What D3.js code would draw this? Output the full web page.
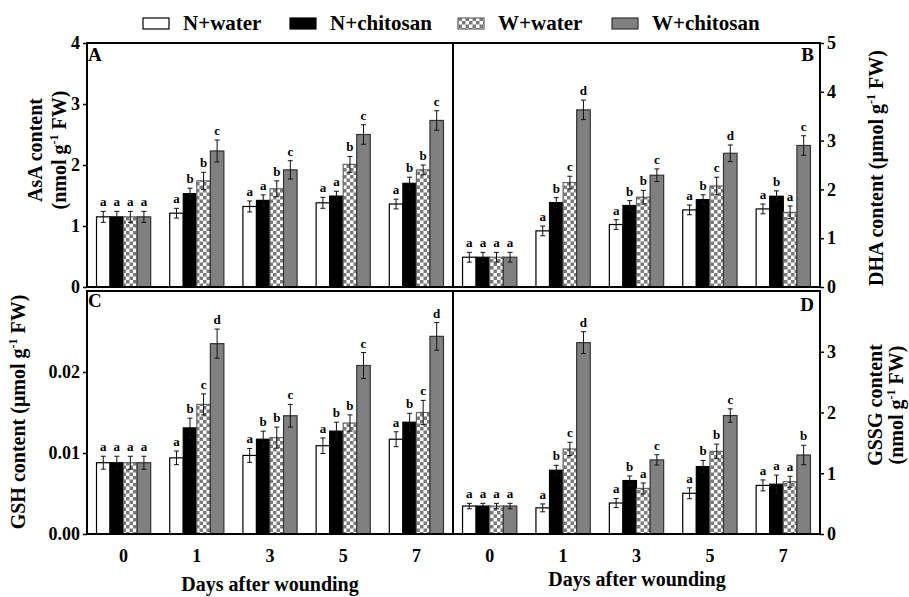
<!DOCTYPE html>
<html>
<head>
<meta charset="utf-8">
<script src="https://cdn.jsdelivr.net/npm/d3@7"></script>
<style>
  body { margin: 0; background: #fff; }
  svg { display: block; }
  text { font-family: "Liberation Serif", "Times New Roman", serif; font-weight: bold; fill: #000; }
</style>
</head>
<body>
<svg id="chart" width="909" height="597"></svg>
<script>
// categories
const days = ['0', '1', '3', '5', '7'];
const series = ['N+water', 'N+chitosan', 'W+water', 'W+chitosan'];

// A: AsA content, one row per series
const asaMean = [
  [1.15, 1.21, 1.32, 1.38, 1.36],
  [1.15, 1.53, 1.42, 1.49, 1.70],
  [1.15, 1.74, 1.61, 2.01, 1.92],
  [1.15, 2.23, 1.92, 2.50, 2.73]
];
const asaErr = [
  [0.09, 0.08, 0.09, 0.09, 0.08],
  [0.09, 0.09, 0.09, 0.08, 0.10],
  [0.09, 0.14, 0.13, 0.13, 0.08],
  [0.09, 0.18, 0.15, 0.16, 0.16]
];
const asaSig = [
  ['a', 'a', 'a', 'a', 'a'],
  ['a', 'b', 'a', 'a', 'b'],
  ['a', 'b', 'b', 'b', 'b'],
  ['a', 'c', 'c', 'c', 'c']
];

// B: DHA content
const dhaMean = [
  [0.61, 1.15, 1.28, 1.58, 1.60],
  [0.61, 1.73, 1.67, 1.79, 1.86],
  [0.61, 2.14, 1.84, 2.07, 1.53],
  [0.61, 3.63, 2.29, 2.74, 2.90]
];
const dhaErr = [
  [0.10, 0.10, 0.10, 0.10, 0.10],
  [0.10, 0.10, 0.10, 0.10, 0.11],
  [0.10, 0.13, 0.14, 0.18, 0.13],
  [0.10, 0.20, 0.13, 0.17, 0.20]
];
const dhaSig = [
  ['a', 'a', 'a', 'a', 'a'],
  ['a', 'b', 'b', 'b', 'b'],
  ['a', 'c', 'b', 'c', 'a'],
  ['a', 'd', 'c', 'd', 'c']
];

// C: GSH content
const gshMean = [
  [0.0088, 0.0094, 0.0097, 0.0109, 0.0117],
  [0.0088, 0.0131, 0.0117, 0.0127, 0.0138],
  [0.0088, 0.0160, 0.0119, 0.0137, 0.0150],
  [0.0088, 0.0235, 0.0146, 0.0208, 0.0244]
];
const gshErr = [
  [0.0008, 0.00084, 0.00086, 0.00096, 0.00092],
  [0.0008, 0.0012, 0.0010, 0.0011, 0.0011],
  [0.0008, 0.0013, 0.0013, 0.0010, 0.0015],
  [0.0008, 0.0018, 0.0014, 0.0016, 0.0017]
];
const gshSig = [
  ['a', 'a', 'a', 'a', 'a'],
  ['a', 'b', 'b', 'b', 'b'],
  ['a', 'c', 'b', 'b', 'c'],
  ['a', 'd', 'c', 'c', 'd']
];

// D: GSSG content
const gssgMean = [
  [0.46, 0.43, 0.51, 0.67, 0.80],
  [0.46, 1.05, 0.88, 1.11, 0.82],
  [0.46, 1.40, 0.75, 1.36, 0.86],
  [0.46, 3.15, 1.22, 1.95, 1.30]
];
const gssgErr = [
  [0.045, 0.065, 0.075, 0.09, 0.09],
  [0.045, 0.08, 0.075, 0.10, 0.15],
  [0.045, 0.11, 0.09, 0.12, 0.09],
  [0.045, 0.18, 0.085, 0.11, 0.16]
];
const gssgSig = [
  ['a', 'a', 'a', 'a', 'a'],
  ['a', 'b', 'b', 'b', 'a'],
  ['a', 'c', 'a', 'b', 'a'],
  ['a', 'd', 'c', 'c', 'b']
];

// axis ticks
const asaTicks = [0, 1, 2, 3, 4];
const dhaTicks = [0, 1, 2, 3, 4, 5];
const gshTicks = [0, 0.01, 0.02];
const gssgTicks = [0, 1, 2, 3];

const svg = d3.select('#chart');
const GRAY = '#808080';

// checker pattern for W+water
const defs = svg.append('defs');
const pat = defs.append('pattern').attr('id', 'checker')
  .attr('patternUnits', 'userSpaceOnUse').attr('width', 7).attr('height', 7);
pat.append('rect').attr('width', 7).attr('height', 7).attr('fill', '#fff');
pat.append('rect').attr('width', 3.5).attr('height', 3.5).attr('fill', '#7a7a7a');
pat.append('rect').attr('x', 3.5).attr('y', 3.5).attr('width', 3.5).attr('height', 3.5).attr('fill', '#7a7a7a');

const fills = ['#fff', '#000', 'url(#checker)', GRAY];
const strokes = ['#000', '#000', '#666', '#333'];

const panels = [
  { tag: 'A', mean: asaMean, err: asaErr, sig: asaSig, max: 4, ticks: asaTicks, fmt: d3.format('d'),
    left: 87, right: 453, top: 43, bottom: 287, side: 'left', tagX: 88, tagY: 61, tagAnchor: 'start' },
  { tag: 'B', mean: dhaMean, err: dhaErr, sig: dhaSig, max: 5, ticks: dhaTicks, fmt: d3.format('d'),
    left: 453, right: 820, top: 43, bottom: 287, side: 'right', tagX: 814, tagY: 61, tagAnchor: 'end' },
  { tag: 'C', mean: gshMean, err: gshErr, sig: gshSig, max: 0.03, ticks: gshTicks, fmt: d3.format('.2f'),
    left: 87, right: 453, top: 291, bottom: 534, side: 'left', tagX: 88, tagY: 307, tagAnchor: 'start' },
  { tag: 'D', mean: gssgMean, err: gssgErr, sig: gssgSig, max: 4, ticks: gssgTicks, fmt: d3.format('d'),
    left: 453, right: 820, top: 291, bottom: 534, side: 'right', tagX: 814, tagY: 311, tagAnchor: 'end' }
];

panels.forEach(p => {
  const g = svg.append('g');
  const x0 = d3.scaleBand().domain(days).range([p.left, p.right]).paddingInner(0.26).paddingOuter(0.13);
  const x1 = d3.scaleBand().domain(series).range([0, x0.bandwidth()]);
  const y = d3.scaleLinear().domain([0, p.max]).range([p.bottom, p.top]);

  const rows = [];
  series.forEach((s, si) => days.forEach((d, di) => {
    rows.push({ s, si, d, v: p.mean[si][di], e: p.err[si][di], l: p.sig[si][di] });
  }));

  // bars
  g.selectAll('rect.bar').data(rows).enter().append('rect')
    .attr('class', 'bar')
    .attr('x', r => x0(r.d) + x1(r.s))
    .attr('y', r => y(r.v))
    .attr('width', x1.bandwidth())
    .attr('height', r => y(0) - y(r.v))
    .attr('fill', r => fills[r.si])
    .attr('stroke', r => strokes[r.si])
    .attr('stroke-width', 1.2);

  // error bars
  const eb = g.selectAll('g.eb').data(rows).enter().append('g')
    .attr('transform', r => `translate(${x0(r.d) + x1(r.s) + x1.bandwidth() / 2},0)`);
  eb.append('line').attr('y1', r => y(r.v + r.e)).attr('y2', r => y(r.v - r.e))
    .attr('stroke', '#111').attr('stroke-width', 1);
  eb.append('line').attr('x1', -2.5).attr('x2', 2.5).attr('y1', r => y(r.v + r.e)).attr('y2', r => y(r.v + r.e))
    .attr('stroke', '#111').attr('stroke-width', 1);
  eb.append('line').attr('x1', -2.5).attr('x2', 2.5).attr('y1', r => y(r.v - r.e)).attr('y2', r => y(r.v - r.e))
    .attr('stroke', '#111').attr('stroke-width', 1);

  // significance letters
  g.selectAll('text.sig').data(rows).enter().append('text')
    .attr('x', r => x0(r.d) + x1(r.s) + x1.bandwidth() / 2)
    .attr('y', r => y(r.v + r.e) - 5)
    .attr('text-anchor', 'middle')
    .attr('font-size', 13)
    .text(r => r.l);

  // y axis
  const axis = (p.side === 'left' ? d3.axisLeft(y) : d3.axisRight(y))
    .tickValues(p.ticks).tickFormat(p.fmt).tickSize(4).tickPadding(3);
  const ag = g.append('g')
    .attr('transform', `translate(${p.side === 'left' ? p.left : p.right},0)`)
    .call(axis);
  ag.select('.domain').remove();
  ag.selectAll('line').attr('stroke', '#000').attr('stroke-width', 1.5);
  ag.selectAll('text').attr('font-size', 18).attr('font-family', null).attr('fill', '#000');

  // frame
  g.append('rect').attr('x', p.left).attr('y', p.top)
    .attr('width', p.right - p.left).attr('height', p.bottom - p.top)
    .attr('fill', 'none').attr('stroke', '#000').attr('stroke-width', 2);

  // panel tag
  g.append('text').attr('x', p.tagX).attr('y', p.tagY)
    .attr('text-anchor', p.tagAnchor).attr('font-size', 19).text(p.tag);

  // x tick labels under the bottom row
  if (p.tag === 'C' || p.tag === 'D') {
    g.selectAll('text.xt').data(days).enter().append('text')
      .attr('x', d => x0(d) + x0.bandwidth() / 2)
      .attr('y', 562)
      .attr('text-anchor', 'middle')
      .attr('font-size', 18)
      .text(d => d);
  }
});

// x axis titles
svg.append('text').attr('x', 270).attr('y', 591).attr('text-anchor', 'middle')
  .attr('font-size', 20).text('Days after wounding');
svg.append('text').attr('x', 637).attr('y', 586).attr('text-anchor', 'middle')
  .attr('font-size', 20).text('Days after wounding');

// rotated y titles with superscript -1
function yTitle(x, yc, before, after) {
  const t = svg.append('text')
    .attr('transform', `translate(${x},${yc}) rotate(-90)`)
    .attr('text-anchor', 'middle').attr('font-size', 20);
  t.append('tspan').text(before);
  t.append('tspan').attr('font-size', 12).attr('dy', -8).text('-1');
  t.append('tspan').attr('dy', 8).text(after);
}
function yTitlePlain(x, yc, s) {
  svg.append('text')
    .attr('transform', `translate(${x},${yc}) rotate(-90)`)
    .attr('text-anchor', 'middle').attr('font-size', 20).text(s);
}
yTitlePlain(42, 150, 'AsA content');
yTitle(66, 150, '(nmol g', ' FW)');
yTitle(25, 412, 'GSH content (μmol g', ' FW)');
yTitle(883, 168, 'DHA content (μmol g', ' FW)');
yTitlePlain(882, 405, 'GSSG content');
yTitle(903, 405, '(nmol g', ' FW)');

// legend
const legendX = [143, 290, 458, 612];
const lg = svg.append('g');
series.forEach((s, i) => {
  lg.append('rect').attr('x', legendX[i]).attr('y', 18).attr('width', 26).attr('height', 11)
    .attr('fill', fills[i]).attr('stroke', strokes[i]).attr('stroke-width', 1.2);
  lg.append('text').attr('x', legendX[i] + 40).attr('y', 30).attr('font-size', 21).text(s);
});
</script>
</body>
</html>
